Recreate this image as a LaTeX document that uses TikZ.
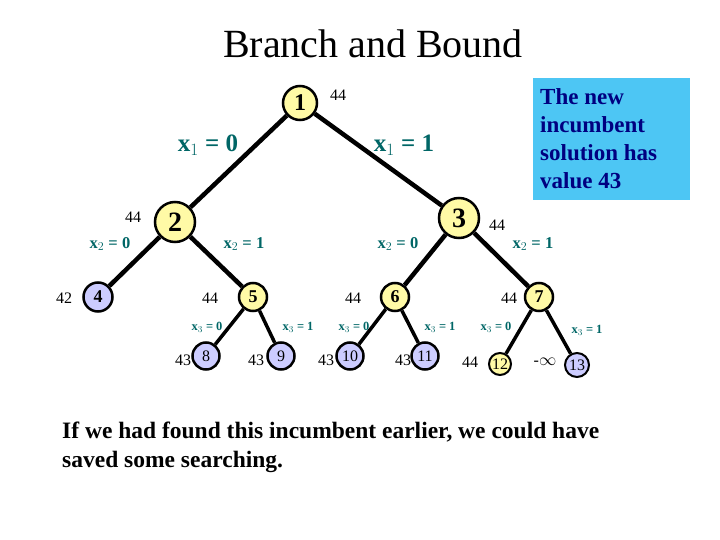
\documentclass[tikz,border=0pt]{standalone}
\usepackage{fontspec}
\setmainfont{Liberation Serif}
\begin{document}
\begin{tikzpicture}[x=1pt,y=-1pt,
  yel/.style={circle,draw=black,line width=2.5pt,fill=yellow!35,inner sep=0pt,font=\bfseries},
  blu/.style={circle,draw=black,line width=2.5pt,fill=blue!20,inner sep=0pt,font=\bfseries},
  ed/.style={line width=4.5pt},
  ed2/.style={line width=3.5pt},
  lab/.style={text=teal!80!black,font=\bfseries},
  val/.style={font=\fontsize{16}{16}\selectfont}]
\useasboundingbox (0,0) rectangle (720,540);
\node at (373,44) {\fontsize{40}{40}\selectfont Branch and Bound};
\node[yel,minimum size=34pt,font=\bfseries\fontsize{24}{24}\selectfont] (n1) at (300,103) {1};
\node[yel,minimum size=40pt,font=\bfseries\fontsize{28}{28}\selectfont] (n2) at (175,222) {2};
\node[yel,minimum size=40pt,font=\bfseries\fontsize{28}{28}\selectfont] (n3) at (459,218) {3};
\node[blu,minimum size=29pt,font=\bfseries\fontsize{18}{18}\selectfont] (n4) at (98,297) {4};
\node[yel,minimum size=28pt,font=\bfseries\fontsize{18}{18}\selectfont] (n5) at (253,297) {5};
\node[yel,minimum size=28pt,font=\bfseries\fontsize{18}{18}\selectfont] (n6) at (395,297) {6};
\node[yel,minimum size=28pt,font=\bfseries\fontsize{18}{18}\selectfont] (n7) at (539,297) {7};
\node[blu,minimum size=27pt,font=\fontsize{16}{16}\selectfont] (n8) at (206,356) {8};
\node[blu,minimum size=27pt,font=\fontsize{16}{16}\selectfont] (n9) at (281,356) {9};
\node[blu,minimum size=27pt,font=\fontsize{16}{16}\selectfont] (n10) at (350,356) {10};
\node[blu,minimum size=27pt,font=\fontsize{16}{16}\selectfont] (n11) at (425,356) {11};
\node[yel,minimum size=22pt,line width=2pt,font=\fontsize{16}{16}\selectfont] (n12) at (500,364) {12};
\node[blu,minimum size=24pt,line width=2pt,font=\fontsize{16}{16}\selectfont] (n13) at (577,365) {13};
\draw[ed] (n1)--(n2); \draw[ed] (n1)--(n3);
\draw[ed] (n2)--(n4); \draw[ed] (n2)--(n5);
\draw[ed] (n3)--(n6); \draw[ed] (n3)--(n7);
\draw[ed2] (n5)--(n8); \draw[ed2] (n5)--(n9);
\draw[ed2] (n6)--(n10); \draw[ed2] (n6)--(n11);
\draw[ed2] (n7)--(n12); \draw[ed2] (n7)--(n13);
\node[val] (v1) at (338,95) {44};
\node[val] (v2) at (133,217) {44};
\node[val] (v3) at (497,225) {44};
\node[val] (v4) at (64,298) {42};
\node[val] (v5) at (210,298) {44};
\node[val] (v6) at (353,298) {44};
\node[val] (v7) at (509,298) {44};
\node[val] (v8) at (183,360) {43};
\node[val] (v9) at (256,360) {43};
\node[val] (v10) at (326,360) {43};
\node[val] (v11) at (403,360) {43};
\node[val] (v12) at (470,362) {44};
\node[val] (v13) at (545,362) {-$\infty$};
\node[lab,font=\bfseries\fontsize{25}{25}\selectfont] (l1) at (208,145) {x$_1$ = 0};
\node[lab,font=\bfseries\fontsize{25}{25}\selectfont] (l2) at (404,145) {x$_1$ = 1};
\node[lab,font=\bfseries\fontsize{16.5}{16.5}\selectfont] (l3) at (110,244) {x$_2$ = 0};
\node[lab,font=\bfseries\fontsize{16.5}{16.5}\selectfont] (l4) at (244,244) {x$_2$ = 1};
\node[lab,font=\bfseries\fontsize{16.5}{16.5}\selectfont] (l5) at (398,244) {x$_2$ = 0};
\node[lab,font=\bfseries\fontsize{16.5}{16.5}\selectfont] (l6) at (533,244) {x$_2$ = 1};
\node[lab,font=\bfseries\fontsize{12.5}{12.5}\selectfont] (l7) at (207,327) {x$_3$ = 0};
\node[lab,font=\bfseries\fontsize{12.5}{12.5}\selectfont] (l8) at (298,327) {x$_3$ = 1};
\node[lab,font=\bfseries\fontsize{12.5}{12.5}\selectfont] (l9) at (354,327) {x$_3$ = 0};
\node[lab,font=\bfseries\fontsize{12.5}{12.5}\selectfont] (l10) at (440,327) {x$_3$ = 1};
\node[lab,font=\bfseries\fontsize{12.5}{12.5}\selectfont] (l11) at (496,327) {x$_3$ = 0};
\node[lab,font=\bfseries\fontsize{12.5}{12.5}\selectfont] (l12) at (587,330) {x$_3$ = 1};
\fill[cyan!70!white] (533,78) rectangle (690,200);
\node[anchor=west,inner sep=0pt,text=blue!50!black,font=\bfseries\fontsize{23}{28}\selectfont,align=left] (box) at (540,139) {The new\\incumbent\\solution has\\value 43};
\node[anchor=west,inner sep=0pt,align=left,font=\bfseries\fontsize{23.5}{29}\selectfont] (txt) at (62,447) {If we had found this incumbent earlier, we could have\\saved some searching.};
\end{tikzpicture}
\end{document}
